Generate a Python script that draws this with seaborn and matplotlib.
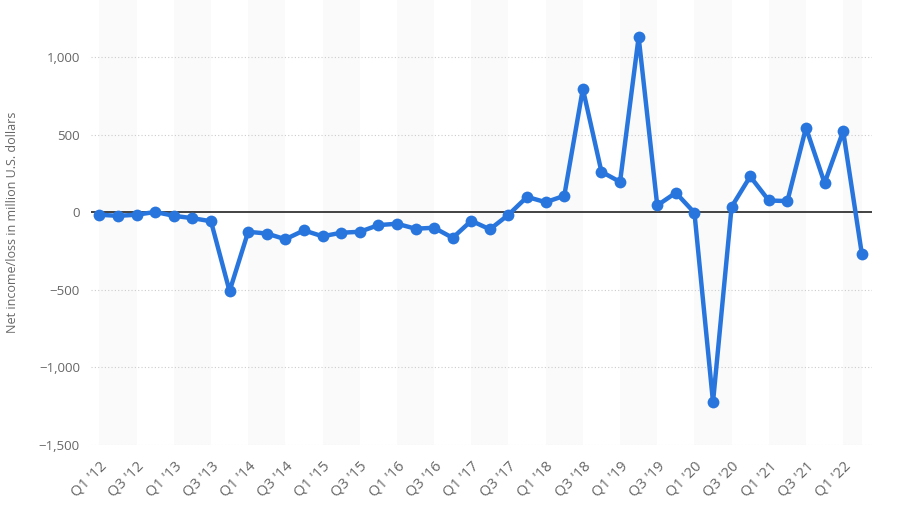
import matplotlib
matplotlib.use("Agg")
import matplotlib.pyplot as plt
import seaborn as sns
import pandas as pd
import numpy as np

quarters = [f"Q{q} '{y:02d}" for y in range(12, 23) for q in range(1, 5)][:42]
net_income = [-15, -22, -15, 3, -22, -37, -57, -508,
              -125, -136, -173, -116, -154, -131, -125, -82,
              -73, -105, -99, -164, -54, -109, -15, 100,
              66, 107, 797, 262, 197, 1131, 45, 127,
              -2, -1224, 36, 232, 77, 73, 546, 189,
              524, -265]
y_ticks = [-1500, -1000, -500, 0, 500, 1000]
y_tick_labels = ["\u22121,500", "\u22121,000", "\u2212500", "0", "500", "1,000"]

df = pd.DataFrame({"idx": np.arange(len(quarters)), "quarter": quarters, "value": net_income})

sns.set_style("white")
plt.rcParams['font.family'] = ['Open Sans', 'DejaVu Sans']

fig = plt.figure(figsize=(9.04, 5.25), dpi=100)
ax = fig.add_axes([0.1007, 0.1524, 0.8639, 0.8476])

n = len(quarters)
for i in range(0, n, 4):
    ax.axvspan(i, min(i + 2, n - 1), color="#fafafa", zorder=0, lw=0)

for t in y_ticks:
    if t != 0:
        ax.axhline(t, color="#cccccc", lw=0.8, ls=(0, (1, 2)), zorder=1)
ax.axhline(0, color="#222222", lw=1.2, zorder=2)

sns.lineplot(data=df, x="idx", y="value", ax=ax, color="#2876dd", lw=3.2,
             marker="o", markersize=8.5, markeredgewidth=0, zorder=3)

ax.set_xlim(-0.45, n - 1 + 0.55)
ax.set_ylim(-1500, 1370)
ax.set_yticks(y_ticks)
ax.set_yticklabels(y_tick_labels, color="#666666", fontsize=9.5)
ax.set_xticks(df["idx"][::2])
ax.set_xticklabels(df["quarter"][::2], rotation=45, ha="right", rotation_mode="anchor",
                   color="#666666", fontsize=10.5)
ax.tick_params(axis="both", length=0, pad=8)
ax.tick_params(axis="x", pad=10)
for s in ax.spines.values():
    s.set_visible(False)
ax.set_xlabel("")
ax.set_ylabel("Net income/loss in million U.S. dollars", color="#666666", fontsize=9, labelpad=14)

fig.savefig("out.png", dpi=100)
